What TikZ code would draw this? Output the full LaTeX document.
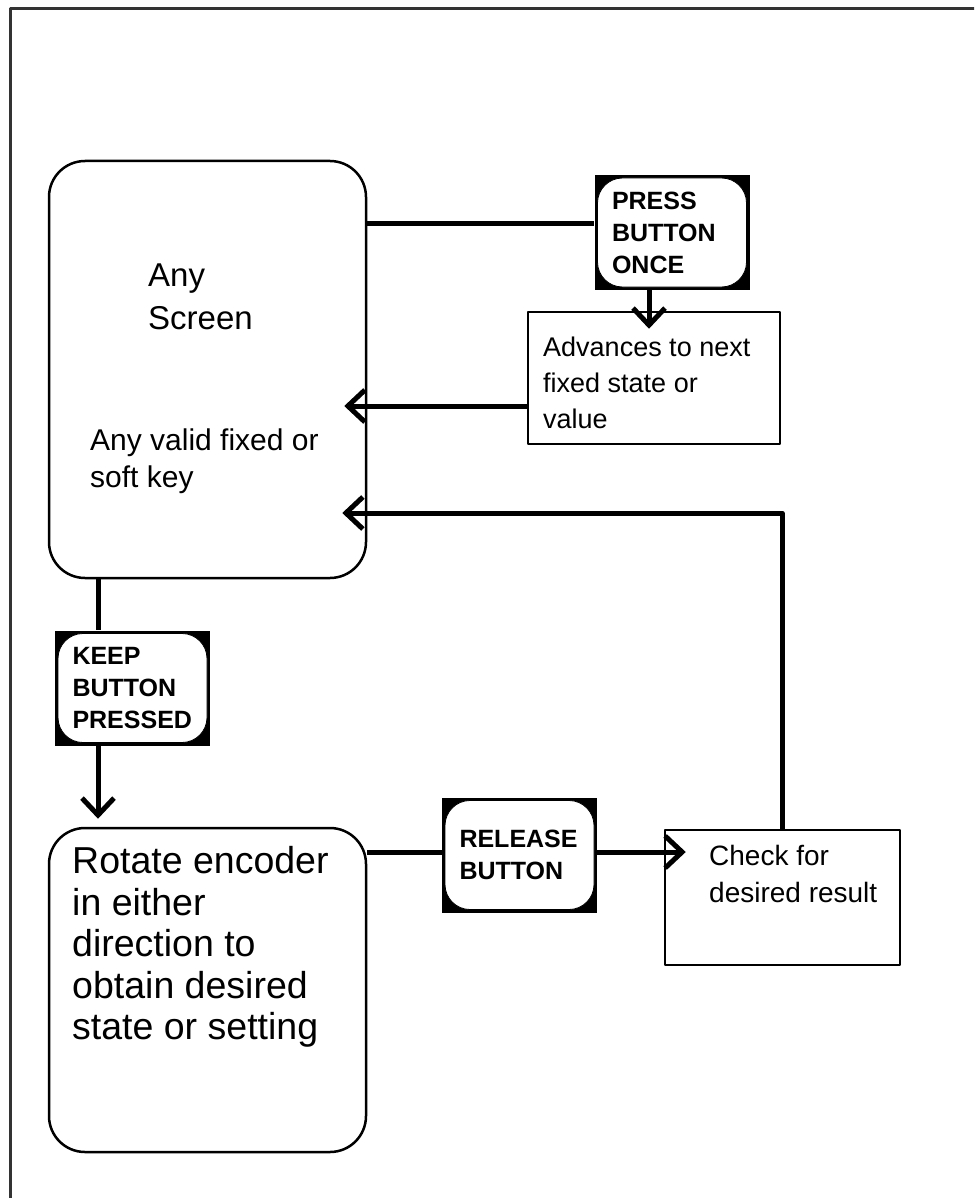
\documentclass[tikz,border=0pt]{standalone}
\usepackage{fontspec}
\setmainfont{Liberation Sans}
\usetikzlibrary{arrows.meta,positioning,calc}
\begin{document}
\begin{tikzpicture}[x=1pt, y=-1pt, line join=round, >={Straight Barb[length=17pt,width=32pt]}]
	\tikzset{box/.style={draw, line width=2.5pt, inner sep=0pt},
		roundbox/.style={box, rounded corners=36pt},
		btnframe/.style={fill=black, inner sep=0pt, minimum width=155pt, minimum height=115pt},
		btn/.style={draw, line width=0.8pt, fill=white, rounded corners=25pt, minimum width=149pt, minimum height=109pt, inner sep=0pt, text width=120pt, align=left, font=\bfseries\fontsize{25}{32}\selectfont},
		conn/.style={line width=5pt},
		txt/.style={anchor=west, align=left, inner sep=0pt}}
	\useasboundingbox (0,0) rectangle (974,1198);
	\clip (0,0) rectangle (974,1198);
	\draw[line width=3pt, black!80] (10,1250) -- (10,9) -- (1020,9);
	% boxes
	\node[roundbox, minimum width=317pt, minimum height=417pt] (screen) at (207.5,369.5) {};
	\node[box, minimum width=252pt, minimum height=132pt] (adv) at (654,378) {};
	\node[roundbox, minimum width=317pt, minimum height=324pt] (rotate) at (207.5,990) {};
	\node[box, minimum width=235pt, minimum height=135pt] (check) at (782.5,897.5) {};
	% texts
	\node[txt, font=\fontsize{33}{43}\selectfont] (screenname) at (148,297) {Any\\Screen};
	\node[txt, font=\fontsize{30}{37}\selectfont] (screenkey) at (90,461) {Any valid fixed or\\soft key};
	\node[txt, font=\fontsize{27}{36}\selectfont] (advtext) at (543,383) {Advances to next\\fixed state or\\value};
	\node[txt, font=\fontsize{37.5}{41.5}\selectfont] (rotatetext) at (72,947) {Rotate encoder\\in either\\direction to\\obtain desired\\state or setting};
	\node[txt, font=\fontsize{28}{37}\selectfont] (checktext) at (709,874) {Check for\\desired result};
	% buttons
	\node[btnframe] (press) at (672,232.5) {};
	\node[btn] at (press) {PRESS\\BUTTON\\ONCE};
	\node[btnframe] (keep) at (132.5,688) {};
	\node[btn] at (keep) {KEEP\\BUTTON\\PRESSED};
	\node[btnframe] (release) at (519.5,855) {};
	\node[btn] at (release) {RELEASE\\BUTTON};
	% connectors
	\coordinate (pressrow) at (0,224);
	\coordinate (advrow) at (0,406);
	\coordinate (backrow) at (0,513);
	\coordinate (releaserow) at (0,852);
	\coordinate (presscol) at (649,0);
	\coordinate (keepcol) at (98,0);
	\coordinate (checkcol) at (782,0);
	\draw[conn] (screen.east |- pressrow) -- (press.west |- pressrow);
	\draw[conn,->] (press.south -| presscol) -- ([yshift=-18pt]adv.north -| presscol);
	\draw[conn,->] (adv.west |- advrow) -- ([xshift=-23pt]screen.east |- advrow);
	\draw[conn,->] (check.north -| checkcol) |- ([xshift=-25pt]screen.east |- backrow);
	\draw[conn] (screen.south -| keepcol) -- (keep.north -| keepcol);
	\draw[conn,->] (keep.south -| keepcol) -- ([yshift=8pt]rotate.north -| keepcol);
	\draw[conn] (rotate.east |- releaserow) -- (release.west |- releaserow);
	\draw[conn,->] (release.east |- releaserow) -- ([xshift=22pt]check.west |- releaserow);
\end{tikzpicture}
\end{document}
